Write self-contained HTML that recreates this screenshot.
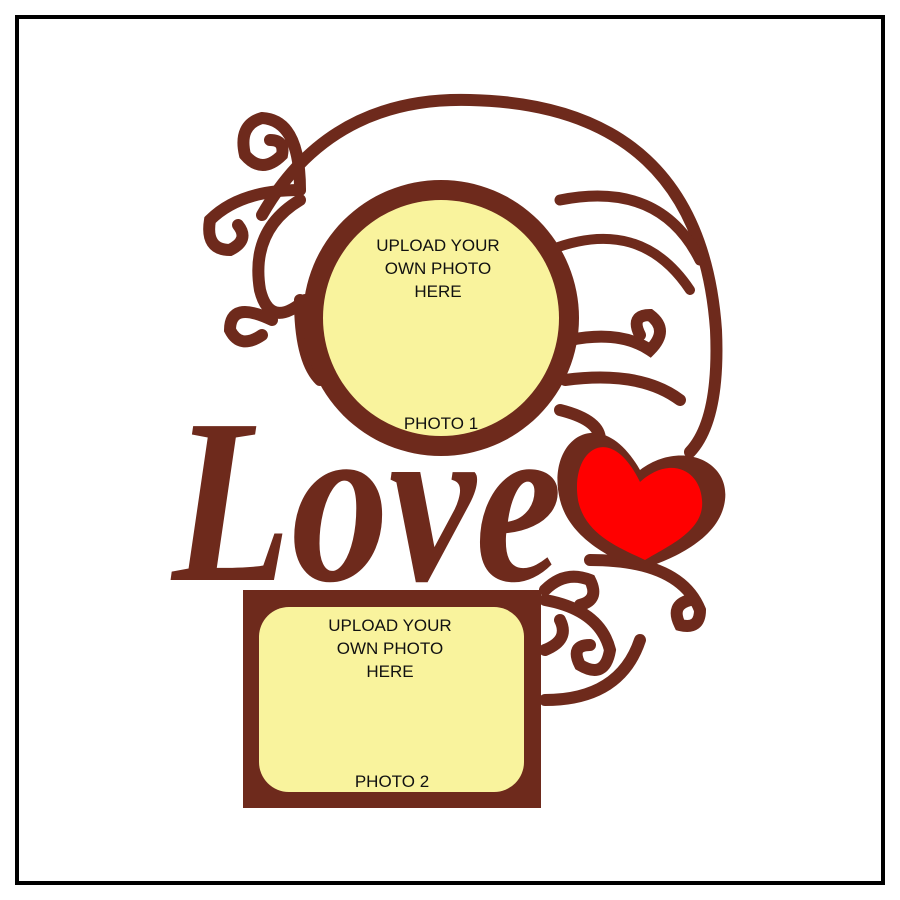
<!DOCTYPE html>
<html><head><meta charset="utf-8"><style>
html,body{margin:0;padding:0;background:#fff;width:900px;height:900px;overflow:hidden}
svg{display:block}
text{font-family:"Liberation Sans",sans-serif}
</style></head><body>
<svg width="900" height="900" viewBox="0 0 900 900" xmlns="http://www.w3.org/2000/svg">
<rect x="17" y="17" width="866" height="866" fill="#fff" stroke="#000" stroke-width="4"/>
<g fill="none" stroke="#6e2a1c" stroke-width="12" stroke-linecap="round">
<path d="M262 215 Q330 96 470 100 Q700 105 716 330 Q720 420 690 452"/>
<path d="M560 200 Q660 180 700 260" stroke-width="11"/>
<path d="M550 250 Q640 215 690 290" stroke-width="10"/>
<path d="M300 190 Q300 120 262 118 Q238 125 245 155 Q262 175 282 155 Q285 140 270 140"/>
<path d="M300 190 Q240 190 210 220 Q205 250 230 250 Q250 240 238 225"/>
<path d="M300 200 Q250 230 260 290 Q270 330 305 300"/>
<path d="M272 320 Q230 300 230 330 Q240 350 262 335"/>
<path d="M300 300 Q300 360 320 380"/>
<path d="M570 340 Q620 330 650 350 Q670 330 650 315 Q630 315 640 335"/>
<path d="M565 380 Q640 370 680 400"/>
<path d="M560 410 Q600 420 600 440"/>
<path d="M545 590 Q565 570 590 580 Q600 600 580 605"/>
<path d="M545 600 Q600 610 610 650 Q605 680 580 665 Q570 645 590 645"/>
<path d="M590 560 Q680 560 700 610 Q700 630 680 625 Q670 605 690 600"/>
<path d="M545 700 Q620 700 640 640"/>
<path d="M545 650 Q570 640 560 620"/>
</g>
<circle cx="441" cy="318" r="138" fill="#6e2a1c"/>
<circle cx="441" cy="318" r="118" fill="#f9f39d"/>
<path d="M640 470 C600 400 545 440 560 500 C570 540 615 560 640 570 C670 560 720 540 725 500 C730 460 680 440 640 470Z" fill="#6e2a1c"/>
<path d="M640 482 C610 420 570 450 578 500 C585 535 620 548 645 560 C670 545 705 530 702 500 C700 470 670 455 640 482Z" fill="#ff0000"/>
<text x="172" y="580" textLength="390" lengthAdjust="spacingAndGlyphs" font-style="italic" font-weight="bold" font-size="235" fill="#6e2a1c" style="font-family:'Liberation Serif',serif">Love</text>
<rect x="243" y="590" width="298" height="218" fill="#6e2a1c"/>
<rect x="259" y="607" width="265" height="185" rx="30" fill="#f9f39d"/>
<g font-size="17" fill="#111" text-anchor="middle">
<text x="438" y="251">UPLOAD YOUR</text>
<text x="438" y="274">OWN PHOTO</text>
<text x="438" y="297">HERE</text>
<text x="441" y="429">PHOTO 1</text>
<text x="390" y="631">UPLOAD YOUR</text>
<text x="390" y="654">OWN PHOTO</text>
<text x="390" y="677">HERE</text>
<text x="392" y="787">PHOTO 2</text>
</g>
</svg>
</body></html>
